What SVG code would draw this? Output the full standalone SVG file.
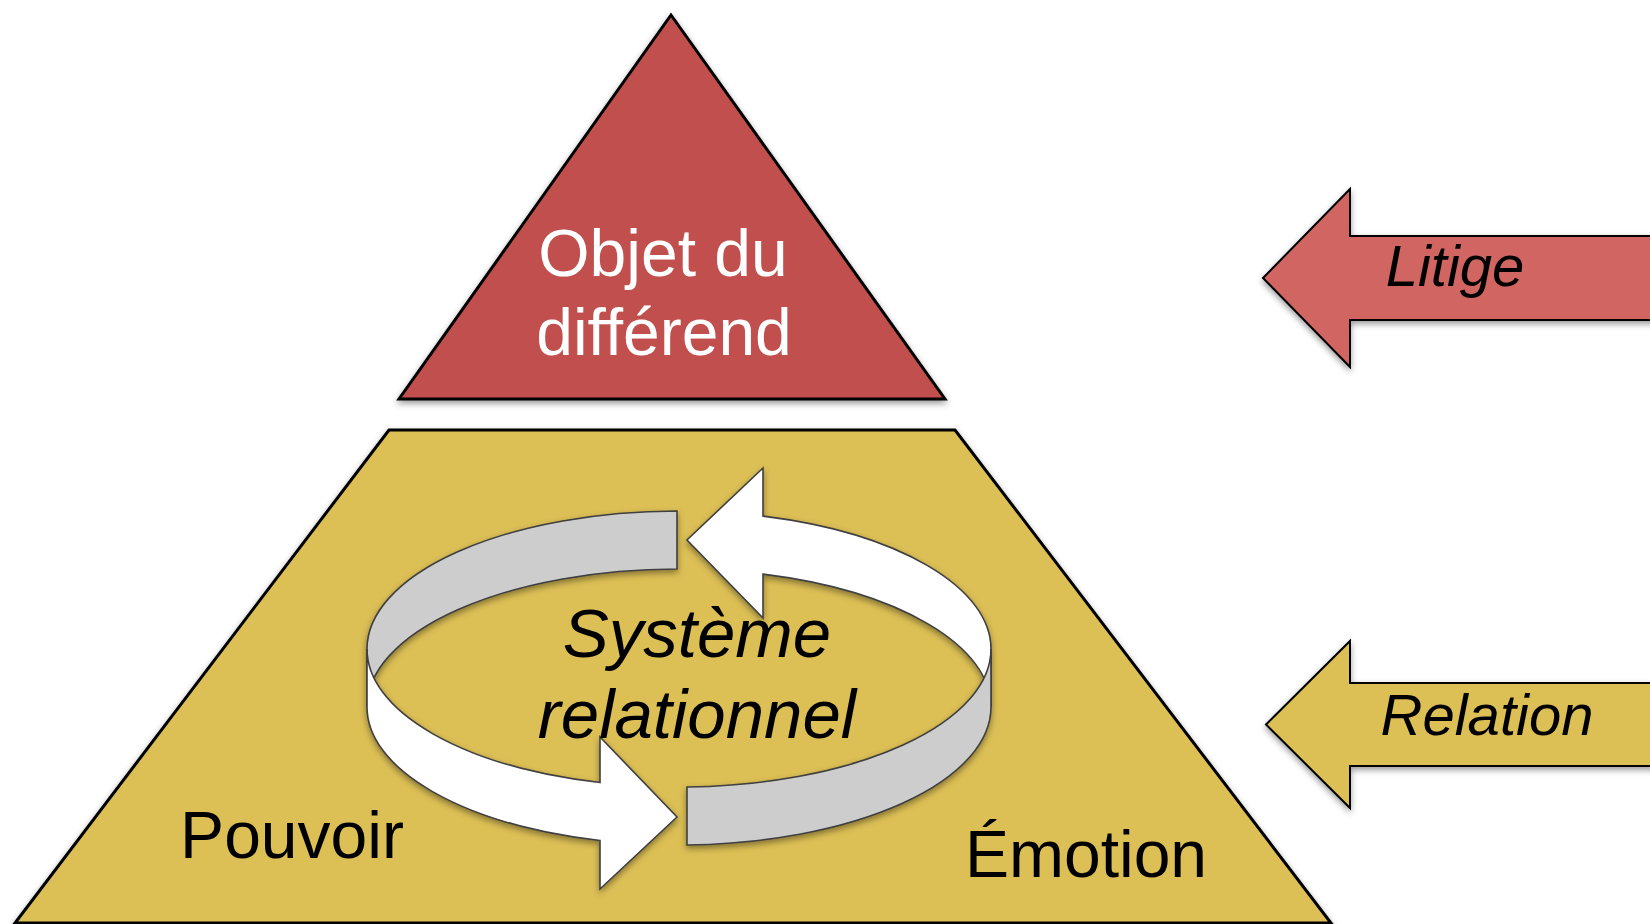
<svg xmlns="http://www.w3.org/2000/svg" width="1650" height="924" viewBox="0 0 1650 924">
  <defs>
    <filter id="shadow" x="-10%" y="-10%" width="120%" height="130%">
      <feDropShadow dx="0" dy="3" stdDeviation="3" flood-color="#000" flood-opacity="0.4"/>
    </filter>
    <style>
      .lbl { font-family: "Liberation Sans", Arial, sans-serif; font-size: 66px; fill: #000; }
      .it { font-style: italic; }
      .sys { font-size: 69px; }
      .arr { font-size: 58px; }
      .white { fill: #fff; }
      .shape { stroke: #000; stroke-width: 3; }
      .ring { stroke: #3f3f3f; stroke-width: 1.6; stroke-linejoin: miter; }
      .gray { fill: #cdcdcd; }
      .wfill { fill: #ffffff; }
    </style>
  </defs>
  <rect width="1650" height="924" fill="#fff"/>

  <g id="node-relation-base">
    <polygon class="shape" fill="#dcbf55" filter="url(#shadow)" points="389,430 955,430 1331,923 15,923"/>
  </g>

  <g id="node-objet">
    <polygon class="shape" fill="#c0504d" filter="url(#shadow)" points="671,15 945,399 399,399"/>
    <text class="lbl white" x="663" y="276" text-anchor="middle">Objet du</text>
    <text class="lbl white" x="664" y="355" text-anchor="middle">différend</text>
  </g>

  <g id="node-cycle" filter="url(#shadow)">
    <path class="ring gray" d="M367,649 A312,138 0 0 1 677,511 L677,569 A312,138 0 0 0 367,707 Z"/>
    <path class="ring wfill" d="M991,649 L991,707 A312,138 0 0 0 763,574.1 L763,618 L687,540 L763,468 L763,516.1 A312,138 0 0 1 991,649 Z"/>
    <path class="ring wfill" d="M367,649 A312,138 0 0 0 600,782.5 L600,737 L677,817 L600,889 L600,840.5 A312,138 0 0 1 367,707 Z"/>
    <path class="ring gray" d="M687,787 A312,138 0 0 0 991,649 L991,707 A312,138 0 0 1 687,845 Z"/>
  </g>

  <g id="node-systeme-label">
    <text class="lbl it sys" x="697" y="657" text-anchor="middle">Système</text>
    <text class="lbl it sys" x="697" y="738" text-anchor="middle">relationnel</text>
  </g>

  <g id="node-pouvoir">
    <text class="lbl" x="292" y="858" text-anchor="middle">Pouvoir</text>
  </g>

  <g id="node-emotion">
    <text class="lbl" x="1086" y="877" text-anchor="middle">Émotion</text>
  </g>

  <g id="node-litige">
    <polygon fill="#d16562" stroke="#000" stroke-width="2" filter="url(#shadow)" points="1263,278 1350,189 1350,236 1662,236 1662,320 1350,320 1350,367"/>
    <text class="lbl it arr" x="1455" y="286" text-anchor="middle">Litige</text>
  </g>

  <g id="node-relation">
    <polygon fill="#dcbf55" stroke="#000" stroke-width="2" filter="url(#shadow)" points="1266,724.5 1350,641 1350,683 1662,683 1662,766 1350,766 1350,808"/>
    <text class="lbl it arr" x="1487" y="735" text-anchor="middle">Relation</text>
  </g>

  <g id="connectors"/>
</svg>
